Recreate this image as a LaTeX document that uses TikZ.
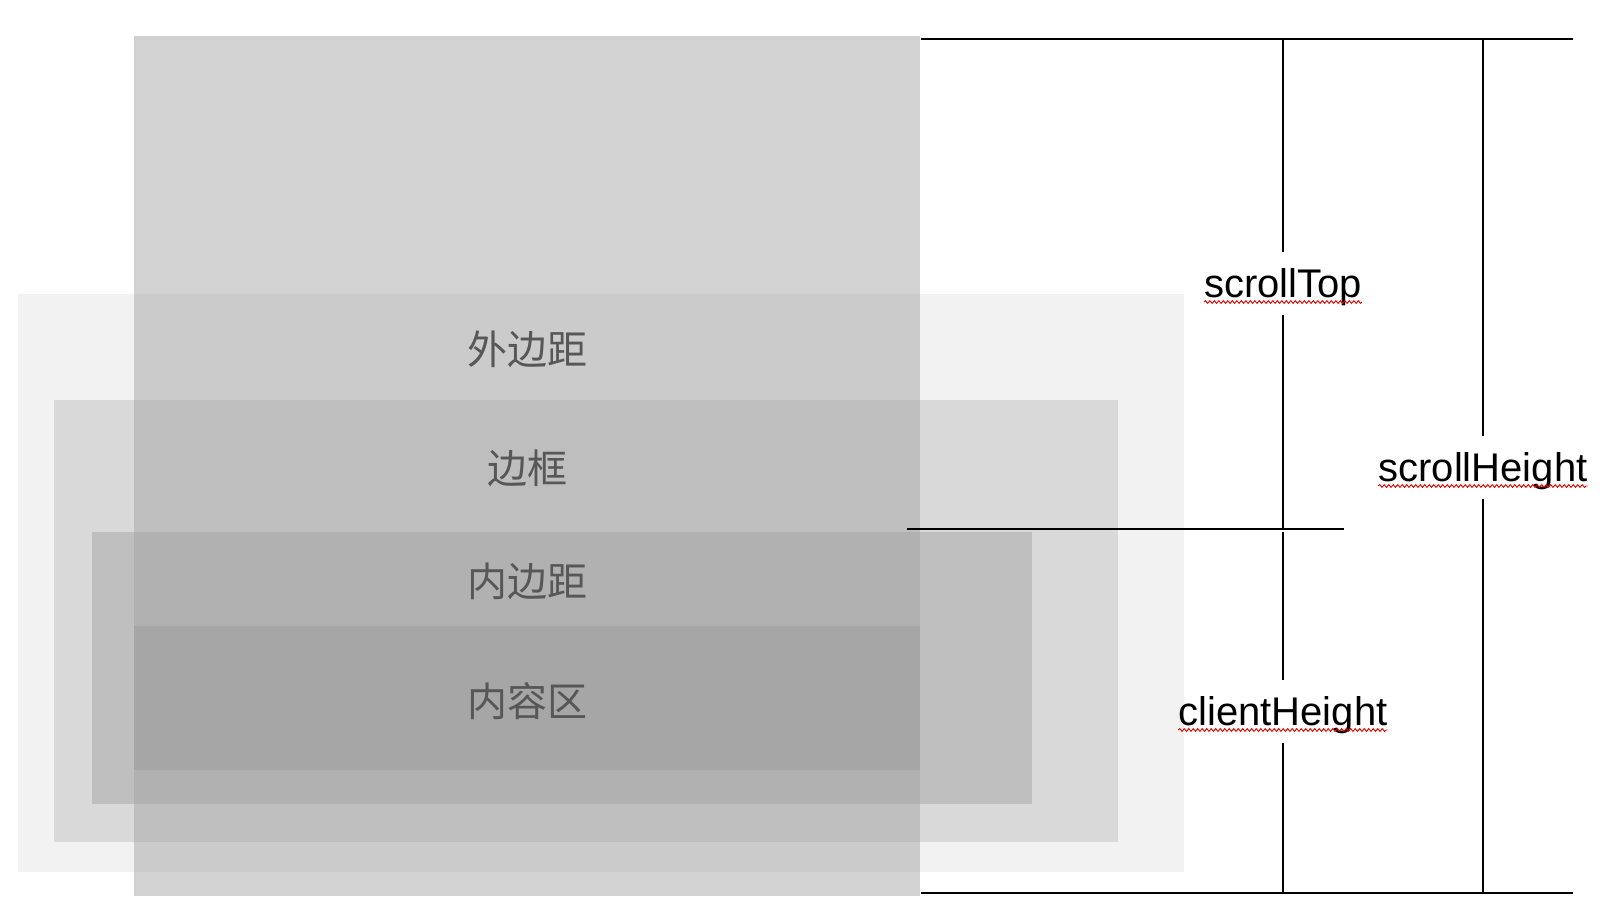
\documentclass[tikz,border=0pt]{standalone}
\usepackage{fontspec}
\setmainfont{Liberation Sans}
\newfontfamily\cjk{Noto Sans CJK SC}
\usetikzlibrary{decorations.pathmorphing}
\definecolor{marginc}{HTML}{F2F2F2}
\definecolor{borderc}{HTML}{D9D9D9}
\definecolor{paddingc}{HTML}{BFBFBF}
\definecolor{scrollc}{HTML}{A5A5A5}
\definecolor{contentc}{HTML}{A6A6A6}
\definecolor{boxtext}{HTML}{575757}
\begin{document}
\begin{tikzpicture}[x=1pt,y=-1pt]
        \tikzstyle{area}=[font=\cjk\fontsize{40}{48}\selectfont,text=boxtext,inner sep=0pt]
        \tikzstyle{measure}=[font=\fontsize{40}{48}\selectfont,text=black,anchor=base,
                             inner xsep=0pt,inner ysep=9pt,text height=36pt,text depth=9pt]
        \tikzstyle{edge}=[draw,line width=1.8pt]
        \tikzstyle{squiggle}=[draw=red!90!black,line width=0.9pt,
                              decorate,decoration={snake,amplitude=1.4pt,segment length=4.5pt}]
        \useasboundingbox (0,0) rectangle (1612,914);
       \begin{scope}
         % box model layers
         \fill[marginc] (18,294) rectangle (1184,872);
         \fill[borderc] (54,400) rectangle (1118,842);
         \fill[paddingc] (92,532) rectangle (1032,804);
         \fill[scrollc,fill opacity=0.5] (134,36) rectangle (920,896);
         \fill[contentc] (134,626) rectangle (920,770);
         \node [area] (margin) at (527,349) {外边距};
         \node [area] (border) at (527,468) {边框};
         \node [area] (padding) at (527,581) {内边距};
         \node [area] (content) at (527,701) {内容区};
        \end{scope}
       \begin{scope}
         % measures
         \coordinate (t1) at (921,39);
         \coordinate (t2) at (1573,39);
         \coordinate (b1) at (921,893);
         \coordinate (b2) at (1573,893);
         \coordinate (m1) at (907,529);
         \coordinate (m2) at (1344,529);
         \coordinate (st1) at (1283,40);
         \coordinate (st2) at (1283,529);
         \coordinate (sh1) at (1483,40);
         \coordinate (sh2) at (1483,893);
         \coordinate (ch1) at (1283,532);
         \coordinate (ch2) at (1283,893);
         \node [measure] (stop) at (1283,297) {scrollTop};
         \node [measure] (sheight) at (1483,481) {scrollHeight};
         \node [measure] (cheight) at (1283,725) {clientHeight};
         \path[edge] (t1) -- (t2);
         \path[edge] (b1) -- (b2);
         \path[edge] (m1) -- (m2);
         \path[edge] (st1) -- (stop.north);
         \path[edge] (stop.south) -- (st2);
         \path[edge] (sh1) -- (sheight.north);
         \path[edge] (sheight.south) -- (sh2);
         \path[edge] (ch1) -- (cheight.north);
         \path[edge] (cheight.south) -- (ch2);
         \path[squiggle] ([yshift=-5pt]stop.base west) -- ([yshift=-5pt]stop.base east);
         \path[squiggle] ([yshift=-5pt]sheight.base west) -- ([yshift=-5pt]sheight.base east);
         \path[squiggle] ([yshift=-5pt]cheight.base west) -- ([yshift=-5pt]cheight.base east);
        \end{scope}
      \end{tikzpicture}
\end{document}
